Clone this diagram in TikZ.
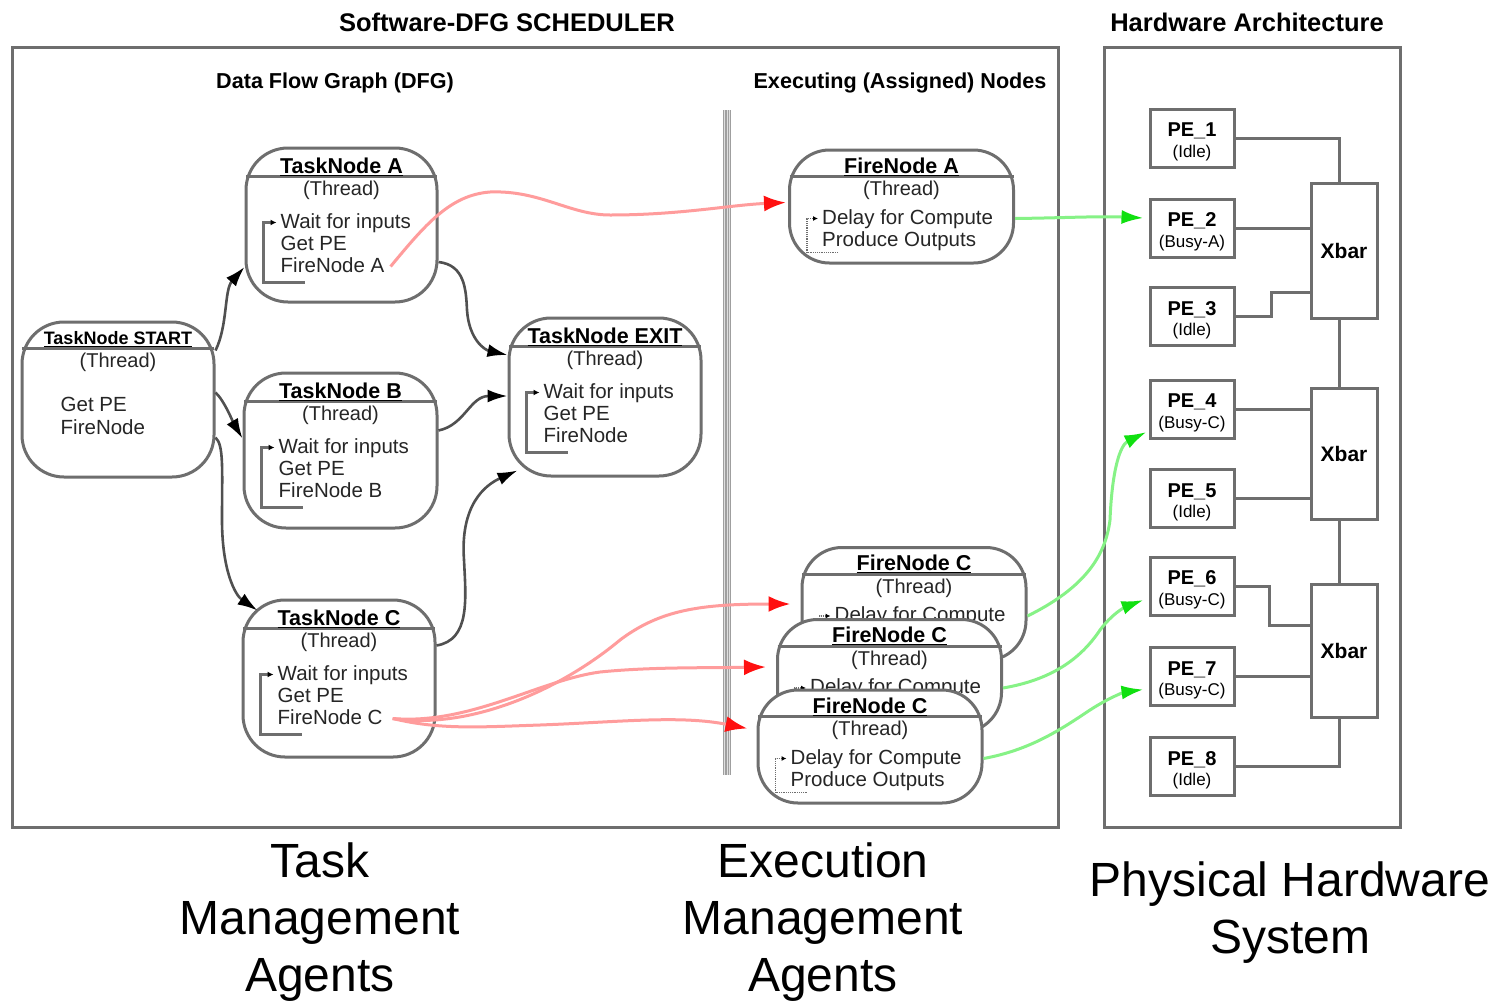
\documentclass[tikz,border=0pt]{standalone}
\usepackage{fontspec}
\setmainfont{Liberation Sans}
\usetikzlibrary{arrows.meta,calc}
\definecolor{framegray}{HTML}{6E6E6E}
\definecolor{flowgray}{HTML}{505050}
\definecolor{pinkline}{HTML}{FF9C9C}
\definecolor{redtip}{HTML}{FF1010}
\definecolor{greenline}{HTML}{86F286}
\definecolor{greentip}{HTML}{10E010}

\newcommand{\TaskAgent}[8]{%
 \node[taskbox, minimum width=#3, minimum height=#4] (#1) at (#2) {};
 \draw[boxline] ($(#1.north west)+(1.5,30)$) -- ($(#1.north east)+(-1.5,30)$);
 \node[titletxt] (#1-t) at ($(#1.north)+(0,20)$) {\underline{#5}};
 \node[threadtxt] (#1-th) at ($(#1.north)+(0,44)$) {(Thread)};
 \node[bodytxt] (#1-a) at ($(#1.north west)+(36,76)$) {#6};
 \node[bodytxt] (#1-b) at ($(#1.north west)+(36,98)$) {#7};
 \node[bodytxt] (#1-c) at ($(#1.north west)+(36,120)$) {#8};
 \draw[loopline] ($(#1.north west)+(60,136)$) -- ($(#1.north west)+(19,136)$) -- ($(#1.north west)+(19,76)$) -- ($(#1.north west)+(32,76)$);
}
\newcommand{\FireAgent}[3]{%
 \node[firebox] (#1) at (#2) {};
 \draw[boxline] ($(#1.north west)+(1.5,28)$) -- ($(#1.north east)+(-1.5,28)$);
 \node[titletxt] (#1-t) at ($(#1.north)+(0,18)$) {\underline{#3}};
 \node[threadtxt] (#1-th) at ($(#1.north)+(0,42)$) {(Thread)};
 \node[bodytxt] (#1-a) at ($(#1.north west)+(34,70)$) {Delay for Compute};
 \node[bodytxt] (#1-b) at ($(#1.north west)+(34,92)$) {Produce Outputs};
 \draw[dotloop] ($(#1.north west)+(50,104)$) -- ($(#1.north west)+(19,104)$) -- ($(#1.north west)+(19,70)$) -- ($(#1.north west)+(30,70)$);
}
\newcommand{\ProcElem}[4]{%
 \node[pebox] (#1) at (#2) {};
 \node[penum] (#1-n) at ([yshift=7pt]#1.center) {#3};
 \node[pestate] (#1-s) at ([yshift=-15pt]#1.center) {#4};
}

\begin{document}
\begin{tikzpicture}[x=1pt,y=-1pt,
  frameline/.style={draw=framegray, line width=3pt},
  taskbox/.style={draw=framegray, line width=3pt, rounded corners=42pt, fill=white, inner sep=0pt},
  firebox/.style={draw=framegray, line width=3pt, rounded corners=40pt, fill=white, inner sep=0pt, minimum width=224, minimum height=113},
  boxline/.style={draw=framegray, line width=3pt},
  titletxt/.style={font=\bfseries\fontsize{21.5}{23}\selectfont, inner sep=0pt},
  threadtxt/.style={font=\fontsize{20}{22}\selectfont, inner sep=0pt, text=black!85},
  bodytxt/.style={font=\fontsize{20.5}{22}\selectfont, inner sep=0pt, anchor=west, text height=15pt, text depth=4pt, text=black!85},
  headtxt/.style={font=\bfseries\fontsize{25.5}{28}\selectfont, inner sep=0pt},
  subhead/.style={font=\bfseries\fontsize{21.6}{24}\selectfont, inner sep=0pt},
  bigtxt/.style={font=\fontsize{48}{57}\selectfont, align=center, inner sep=0pt},
  loopline/.style={draw=framegray, line width=2.5pt, -{Latex[length=6pt,width=6pt,color=black]}},
  dotloop/.style={draw=framegray, line width=1.2pt, densely dotted, -{Latex[length=5pt,width=5pt,color=black]}},
  pebox/.style={draw=framegray, line width=3pt, minimum width=84, minimum height=58, inner sep=0pt},
  penum/.style={font=\bfseries\fontsize{20}{21}\selectfont, inner sep=0pt},
  pestate/.style={font=\fontsize{17}{18}\selectfont, inner sep=0pt},
  xbarbox/.style={draw=framegray, line width=3pt, minimum width=66, inner sep=0pt, font=\bfseries\fontsize{21}{22}\selectfont},
  wire/.style={draw=framegray, line width=3pt},
  flow/.style={draw=flowgray, line width=2.6pt, -{Latex[length=20pt,width=13pt,color=black]}},
  fire/.style={draw=pinkline, line width=3pt, -{Latex[length=22pt,width=16pt,color=redtip]}},
  assign/.style={draw=greenline, line width=3pt, -{Latex[length=22pt,width=14pt,color=greentip]}}
]
\useasboundingbox (0,0) rectangle (1498,1004);
\fill[white] (0,0) rectangle (1498,1004);

% frames and headings
\draw[frameline] (12,47) rectangle (1058,827);
\draw[frameline] (1104,47) rectangle (1400,827);
\node[headtxt] (h1) at (507,22) {Software-DFG SCHEDULER};
\node[headtxt] (h2) at (1247,22) {Hardware Architecture};
\node[subhead] (h3) at (335,83) {Data Flow Graph (DFG)};
\node[subhead] (h4) at (900,83) {Executing (Assigned) Nodes};

% separator
\draw[draw=gray!75, line width=8pt] (727,110) -- (727,775);
\draw[draw=gray!25, line width=0.8pt] (724.5,110) -- (724.5,775);
\draw[draw=gray!25, line width=0.8pt] (727,110) -- (727,775);
\draw[draw=gray!25, line width=0.8pt] (729.5,110) -- (729.5,775);

% START node
\node[taskbox, minimum width=192, minimum height=155] (start) at (118,399.5) {};
\draw[boxline] ($(start.north west)+(1.5,28)$) -- ($(start.north east)+(-1.5,28)$);
\node[titletxt, font=\bfseries\fontsize{18}{20}\selectfont] (start-t) at ($(start.north)+(0,19)$) {\underline{TaskNode START}};
\node[threadtxt] (start-th) at ($(start.north)+(0,42)$) {(Thread)};
\node[bodytxt] (start-a) at ($(start.north west)+(40,85)$) {Get PE};
\node[bodytxt] (start-b) at ($(start.north west)+(40,108)$) {FireNode};

% task nodes
\TaskAgent{ta}{341.5,225}{191}{154}{TaskNode A}{Wait for inputs}{Get PE}{FireNode A}
\TaskAgent{tb}{340.5,450.5}{193}{155}{TaskNode B}{Wait for inputs}{Get PE}{FireNode B}
\TaskAgent{tc}{339,678.5}{192}{157}{TaskNode C}{Wait for inputs}{Get PE}{FireNode C}
\TaskAgent{ex}{605,397}{192}{158}{TaskNode EXIT}{Wait for inputs}{Get PE}{FireNode}

% fire nodes
\FireAgent{fa}{901.5,206.5}{FireNode A}
\FireAgent{fcb}{914,604}{FireNode C}
\FireAgent{fcm}{889.5,676}{FireNode C}
\FireAgent{fcf}{870,746.5}{FireNode C}

% PEs
\ProcElem{pe1}{1192,138}{PE\_1}{(Idle)}
\ProcElem{pe2}{1192,228}{PE\_2}{(Busy-A)}
\ProcElem{pe3}{1192,316.5}{PE\_3}{(Idle)}
\ProcElem{pe4}{1192,409}{PE\_4}{(Busy-C)}
\ProcElem{pe5}{1192,498.5}{PE\_5}{(Idle)}
\ProcElem{pe6}{1192,586}{PE\_6}{(Busy-C)}
\ProcElem{pe7}{1192,676.5}{PE\_7}{(Busy-C)}
\ProcElem{pe8}{1192,766.5}{PE\_8}{(Idle)}

% Xbars
\node[xbarbox, minimum height=135] (xb1) at (1344,250.5) {Xbar};
\node[xbarbox, minimum height=131] (xb2) at (1344,453.5) {Xbar};
\node[xbarbox, minimum height=133] (xb3) at (1344,650.5) {Xbar};

% wires
\draw[wire] (pe1.east) -| ([xshift=-5pt]xb1.north);
\draw[wire] (pe2.east) -- (pe2.east -| xb1.west);
\draw[wire] (pe3.east) -- ++(36,0) -- ++(0,-24) -- (xb1.west |- 0,292.5);
\draw[wire] ([xshift=-5pt]xb1.south) -- ([xshift=-5pt]xb2.north);
\draw[wire] (pe4.east) -- (pe4.east -| xb2.west);
\draw[wire] (pe5.east) -- (pe5.east -| xb2.west);
\draw[wire] ([xshift=-5pt]xb2.south) -- ([xshift=-5pt]xb3.north);
\draw[wire] (pe6.east) -- ++(34,0) -- ++(0,39) -- (xb3.west |- 0,625);
\draw[wire] (pe7.east) -- (pe7.east -| xb3.west);
\draw[wire] (pe8.east) -| ([xshift=-5pt]xb3.south);

% control flow arrows
\draw[flow] ([yshift=-30pt]start.north east) .. controls (228,325) and (224,290) .. ([yshift=-42pt]ta.west);
\draw[flow] ([yshift=7pt]start.east) .. controls (224,400) and (234,424) .. ([yshift=12pt]tb.west);
\draw[flow] ([yshift=-38pt]start.east) .. controls (224,445) and (222,470) .. (222,520) .. controls (222,570) and (235,595) .. ($(tc.north west)+(16,12)$);
\draw[flow] ([yshift=-37pt]ta.east) .. controls (465,265) and (466,290) .. (467,310) .. controls (469,340) and (485,350) .. ([yshift=42pt]ex.west);
\draw[flow] ([yshift=20pt]tb.east) .. controls (465,425) and (470,396) .. ([yshift=1pt]ex.west);
\draw[flow] ([yshift=33pt]tc.east) .. controls (470,640) and (466,600) .. (464,560) .. controls (460,505) and (485,485) .. ($(ex.south west)+(10,-7)$);

% fire arrows (red)
\draw[fire] ([xshift=6pt]ta-c.east) .. controls (425,225) and (450,195) .. (490,192) .. controls (540,190) and (570,215) .. (610,215) .. controls (680,215) and (730,205) .. ([xshift=-2pt,yshift=4pt]fa.west);
\draw[fire] ([xshift=10pt]tc-c.east) .. controls (470,730) and (560,690) .. (620,640) .. controls (660,610) and (700,604) .. ([xshift=-10pt]fcb.west);
\draw[fire] ([xshift=10pt]tc-c.east) .. controls (470,725) and (540,680) .. (600,672) .. controls (650,667) and (700,668) .. ([xshift=-10pt,yshift=9pt]fcm.west);
\draw[fire] ([xshift=10pt]tc-c.east) .. controls (440,730) and (480,727) .. (540,725) .. controls (620,722) and (680,715) .. ([xshift=-9pt,yshift=18pt]fcf.west);

% assignment arrows (green)
\draw[assign] (fa.east |- fa-a.east) .. controls (1060,218) and (1100,216) .. ([xshift=-5pt,yshift=10pt]pe2.west);
\draw[assign] (fcb.east |- fcb-a.east) .. controls (1080,590) and (1105,560) .. (1110,520) .. controls (1112,470) and (1120,445) .. ([xshift=-2pt,yshift=-23pt]pe4.west);
\draw[assign] (fcm.east |- fcm-a.east) .. controls (1050,680) and (1080,660) .. (1100,630) .. controls (1115,610) and (1130,605) .. ([xshift=-5pt,yshift=-14pt]pe6.west);
\draw[assign] (fcf.east |- fcf-a.east) .. controls (1030,750) and (1060,730) .. (1090,710) .. controls (1110,697) and (1125,692) .. ([xshift=-5pt,yshift=-13pt]pe7.west);

% bottom captions
\node[bigtxt] (cap1) at (320,922) {Task\\Management\\Agents};
\node[bigtxt] (cap2) at (823,922) {Execution\\Management\\Agents};
\node[bigtxt] (cap3) at (1290,913) {Physical Hardware\\System};
\end{tikzpicture}
\end{document}
